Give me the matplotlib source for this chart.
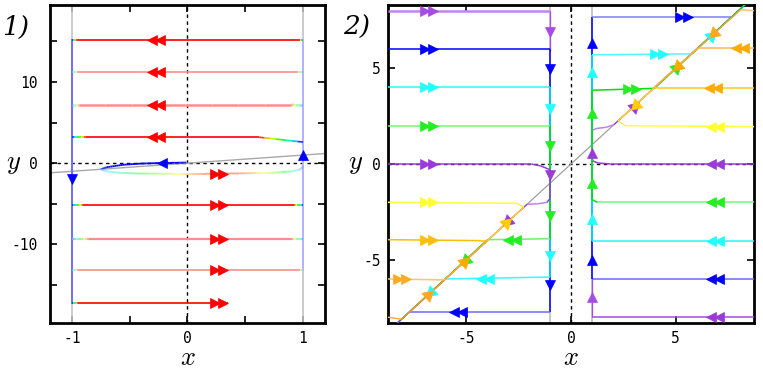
import numpy as np
import matplotlib.pyplot as plt
import matplotlib.transforms as mtransforms
from matplotlib.collections import LineCollection
from matplotlib.colors import LinearSegmentedColormap, to_rgba

plt.rcParams['mathtext.fontset'] = 'cm'
plt.rcParams['axes.unicode_minus'] = False

# ---------------- panel 1 data ----------------
# fast trajectories moving left (start at x=1, end at x=-1)
p1_left_y = [15.2, 11.2, 7.2, 3.2]
p1_left_light = [False, True, True, False]
p1_left_lw = [1.2, 1.2, 1.8, 1.2]
p1_left_ramp_l = [0.04, 0.05, 0.06, 0.12]
p1_left_ramp_r = [0.03, 0.05, 0.10, 0.38]
p1_left_end_y = [15.2, 11.2, 7.1, 2.6]  # y where the line meets x=1
# fast trajectories moving right (start at x=-1)
p1_right_y = [-5.2, -9.3, -13.2, -17.2]
p1_right_light = [False, True, True, False]
p1_right_lw = [1.2, 1.6, 1.2, 1.2]
p1_right_xend = [1.0, 1.0, 1.0, 0.35]
p1_right_ramp_l = [0.10, 0.15, 0.05, 0.05]
p1_right_ramp_r = [0.08, 0.10, 0.03, 0.0]
# small loop near the origin
loop_x = [-0.01, -0.07, -0.24, -0.42, -0.56, -0.70, -0.75, -0.72, -0.62,
          -0.42, -0.13, 0.16, 0.45, 0.74, 0.91, 0.98, 1.0]
loop_y = [0.08, 0.06, 0.02, -0.06, -0.2, -0.5, -0.74, -0.95, -1.16,
          -1.28, -1.3, -1.3, -1.26, -1.18, -1.0, -0.74, -0.42]
loop_c = [0.0, 0.0, 0.0, 0.0, 0.0, 0.02, 0.05, 0.2, 0.32,
          0.5, 0.7, 0.95, 0.95, 0.65, 0.38, 0.15, 0.0]

# ---------------- panel 2 data ----------------
# left-start trajectories (right to x=-1, down, then left onto y=x)
trA_x = [-8.75, -1.0, -1.0]
trA_y = [8.0, 8.0, 5.9]
trA_c = ['#c383f2', '#a64be6']
trB_x = [-8.75, -1.0, -1.0, -7.75, -8.6]
trB_y = [6.0, 6.0, -7.75, -7.75, -8.6]
trB_c = ['#0000ff', '#0000ff', '#6a6aff', '#6a6aff']
trC_x = [-8.75, -1.0, -1.0, -6.0, -8.6]
trC_y = [4.0, 4.0, -5.9, -6.0, -8.6]
trC_c = ['#22ffff', '#00f0ff', '#30ffff', '#00e8f0']
trD_x = [-8.75, -1.0, -1.0, -4.0, -8.6]
trD_y = [2.0, 2.0, -3.9, -3.95, -8.6]
trD_c = ['#6cff6c', '#00e000', '#70f070', '#00d800']
trE_x = [-8.75, -1.9, -1.45, -1.0, -1.0, -1.15, -1.6, -2.1, -8.6]
trE_y = [0.0, 0.0, -0.1, -0.3, -1.8, -2.0, -2.08, -2.1, -8.6]
trE_c = ['#9a3ad8'] * 5 + ['#c080f0'] * 2 + ['#9a3ad8']
trF_x = [-8.75, -2.6, -2.25]
trF_y = [-2.0, -2.05, -2.25]
trF_c = ['#ffff40', '#ffe840']
trG_x = [-8.75, -4.3, -4.0, -2.25]
trG_y = [-3.95, -4.0, -4.0, -2.25]
trG_c = ['#f8c000', '#f8c000', '#ffd030']
trH_x = [-8.75, -6.1, -6.0, -2.25]
trH_y = [-6.0, -6.05, -6.0, -2.25]
trH_c = ['#ffc468', '#ffc468', '#ffb030']
trI_x = [-8.75, -8.1, -4.0]
trI_y = [-8.0, -8.1, -4.0]
trI_c = ['#ffb040', '#ffa000']
# right-start trajectories (left to x=1, up, then right onto y=x)
trA2_x = [8.75, 1.0, 1.0]
trA2_y = [-8.0, -8.0, -5.9]
trA2_c = ['#a64be6', '#a64be6']
trB2_x = [8.75, 1.0, 1.0, 7.7, 8.6]
trB2_y = [-6.0, -6.0, 7.65, 7.65, 8.6]
trB2_c = ['#6a6aff', '#0000ff', '#7c7cff', '#3030ff']
trC2_x = [8.75, 1.0, 1.0, 5.8, 8.6]
trC2_y = [-4.0, -4.0, 5.7, 5.75, 8.6]
trC2_c = ['#30f0ff', '#00ffff', '#50f8ff', '#00f0ff']
trD2_x = [8.75, 1.25, 1.0, 1.0, 4.0, 8.6]
trD2_y = [-2.0, -2.0, -1.85, 3.85, 3.95, 8.6]
trD2_c = ['#78f878', '#00e000', '#00e000', '#00e000', '#00d000']
trE2_x = [8.75, 1.9, 1.3, 1.05, 1.0, 1.0, 1.2, 1.7, 2.05, 8.6]
trE2_y = [0.0, 0.0, 0.05, 0.15, 0.4, 1.75, 1.85, 1.92, 2.05, 8.6]
trE2_c = ['#9a3ad8'] * 5 + ['#c080f0'] * 3 + ['#9a3ad8']
trF2_x = [8.75, 2.6, 2.25]
trF2_y = [1.95, 2.0, 2.25]
trF2_c = ['#ffff40', '#ffe840']
trG2_x = [8.75, 4.3, 4.0, 2.25]
trG2_y = [3.95, 3.95, 4.0, 2.25]
trG2_c = ['#ffcc20', '#ffcc20', '#ffd030']
trH2_x = [8.75, 6.1, 6.0, 2.25]
trH2_y = [6.05, 6.05, 6.0, 2.25]
trH2_c = ['#ffb848', '#ffb848', '#ffb030']
trI2_x = [8.75, 8.1, 4.0]
trI2_y = [8.0, 8.05, 4.0]
trI2_c = ['#ffc070', '#ffa820']

# double arrows (fast motion): x, y, direction, colour
fast_x = [-6.8, -6.8, -6.8, -6.8, -6.8, -6.8, -6.8, -8.1,
          6.9, 6.9, 6.9, 6.9, 6.9, 6.9, 6.8, 8.1,
          -2.8, -4.1, -5.4, 2.9, 4.2, 5.4]
fast_y = [8.0, 6.0, 4.0, 2.0, 0.0, -2.0, -3.95, -6.0,
          0.0, -2.0, -4.0, -6.0, -8.0, 1.95, 3.95, 6.05,
          -3.95, -6.0, -7.75, 3.9, 5.75, 7.65]
fast_dir = ['>'] * 8 + ['<'] * 8 + ['<'] * 3 + ['>'] * 3
fast_col = ['#a64be6', '#0000ff', '#22ffff', '#22ee22', '#9a3ad8', '#ffff30', '#f8c000', '#ffaa20',
            '#9a3ad8', '#22ee22', '#22ffff', '#0000ff', '#9a3ad8', '#ffff30', '#ffaa00', '#ffaa00',
            '#22ee22', '#22ffff', '#0000ff', '#22ee22', '#22ffff', '#0000ff']
# single arrows on the slow branches x=-1 (down) and x=1 (up)
slow_left_y = [6.9, 4.95, 2.86, 0.95, -0.55, -2.7, -4.8, -6.3]
slow_left_c = ['#a64be6', '#0000ff', '#22ffff', '#22ee22', '#9a3ad8', '#22ee22', '#22ffff', '#0000ff']
slow_right_y = [-6.95, -5.0, -2.85, -1.0, 0.55, 2.65, 4.8, 6.3]
slow_right_c = ['#a64be6', '#0000ff', '#22ffff', '#22ee22', '#9a3ad8', '#22ee22', '#22ffff', '#0000ff']
# single arrows on the diagonal y=x
diag_t = [3.0, 5.0, 6.7, 3.1, 5.1, 6.85, -3.0, -5.0, -6.7, -3.1, -5.1, -6.85]
diag_up = [True, True, True, False, False, False, False, False, False, True, True, True]
diag_c = ['#9a3ad8', '#22ee22', '#22ffff', '#ffcc00', '#ffaa00', '#ffa820',
          '#9a3ad8', '#22ee22', '#22ffff', '#ffcc00', '#ffaa00', '#ffa820']

speed_cmap = LinearSegmentedColormap.from_list(
    'speed', ['#0000ff', '#00ffff', '#00ff00', '#ffff00', '#ff0000'])


def lighten(c, f=0.55):
    r, g, b, a = to_rgba(c)
    return (r + (1 - r) * f, g + (1 - g) * f, b + (1 - b) * f, 1.0)


def gradient_line(ax, xs, ys, vals, light=False, lw=1.2, sub=8):
    pts_x, pts_y, pts_v = [], [], []
    for i in range(len(xs) - 1):
        t = np.linspace(0, 1, sub, endpoint=False)
        pts_x += list(xs[i] + (xs[i + 1] - xs[i]) * t)
        pts_y += list(ys[i] + (ys[i + 1] - ys[i]) * t)
        pts_v += list(vals[i] + (vals[i + 1] - vals[i]) * t)
    pts_x.append(xs[-1]); pts_y.append(ys[-1]); pts_v.append(vals[-1])
    pts = np.column_stack([pts_x, pts_y])
    segs = np.stack([pts[:-1], pts[1:]], axis=1)
    v = 0.5 * (np.array(pts_v[:-1]) + np.array(pts_v[1:]))
    cols = [speed_cmap(c) for c in v]
    if light:
        cols = [lighten(c) for c in cols]
    ax.add_collection(LineCollection(segs, colors=cols, linewidths=lw, zorder=3,
                                     capstyle='butt'))


def path_line(ax, xs, ys, cols, lw=1.1):
    # the last segment of every trajectory runs along y=x: draw it thinner
    segs = [[(xs[i], ys[i]), (xs[i + 1], ys[i + 1])] for i in range(len(xs) - 1)]
    lws = [lw] * (len(segs) - 1) + [0.9]
    ax.add_collection(LineCollection(segs, colors=cols, linewidths=lws, zorder=3,
                                     joinstyle='round', capstyle='butt'))


def arrow(ax, x, y, marker, color, n=1, ms=7.5, sep=5.8):
    dirs = {'>': (1, 0), '<': (-1, 0), '^': (0, 1), 'v': (0, -1)}
    dx, dy = dirs[marker]
    for k in range(n):
        o = (k - (n - 1) / 2) * sep
        tr = mtransforms.offset_copy(ax.transData, fig=ax.figure, x=o * dx, y=o * dy,
                                     units='points')
        ax.plot([x], [y], marker=marker, ms=ms, color=color, mec=color, mew=0.5,
                transform=tr, zorder=6, linestyle='none')


def style_axes(ax, pad):
    for s in ax.spines.values():
        s.set_linewidth(2.0)
    ax.tick_params(which='both', direction='in', top=True, right=True, length=5,
                   width=1.2, labelsize=10.5, labelfontfamily='DejaVu Sans Mono')
    ax.tick_params(axis='y', pad=pad)
    ax.tick_params(axis='x', pad=6)
    ax.axhline(0, color='k', lw=1.0, ls=(0, (2.5, 2.5)), zorder=1)
    ax.axvline(0, color='k', lw=1.0, ls=(0, (2.5, 2.5)), zorder=1)
    ax.set_xlabel('$x$', fontsize=19, va='center')
    ax.set_ylabel('$y$', fontsize=19, rotation=0, va='center', ha='center')


fig = plt.figure(figsize=(7.63, 3.72), dpi=100)

# ================= panel 1 =================
ax1 = fig.add_axes([0.0655, 0.1317, 0.3604, 0.8549])
ax1.set_xlim(-1.19, 1.19)
ax1.set_ylim(-19.7, 19.5)
ax1.set_xticks([-1, 0, 1])
ax1.set_yticks([-10, 0, 10])
ax1.set_xticks([-0.5, 0.5], minor=True)
ax1.set_yticks([-15, -5, 5, 15], minor=True)
style_axes(ax1, pad=8.5)
ax1.xaxis.set_label_coords(0.502, -0.11)
ax1.yaxis.set_label_coords(-0.131, 0.503)

ax1.axvline(-1, color='#c4c4c4', lw=1.2, zorder=2)
ax1.axvline(1, color='#c4c4c4', lw=1.2, zorder=2)
ax1.plot([-1.19, 1.19], [-1.19, 1.19], color='#a8a8a8', lw=1.0, zorder=2)
ax1.plot([-1, -1], [max(p1_left_y), min(p1_right_y)], color='#6e6eff', lw=1.4, zorder=3)
ax1.plot([1, 1], [p1_right_y[2], max(p1_left_y)], color='#b4b4ff', lw=1.4, zorder=3)

for y0, light, lw, wl, wr, ye in zip(p1_left_y, p1_left_light, p1_left_lw,
                                     p1_left_ramp_l, p1_left_ramp_r, p1_left_end_y):
    xs = [-1.0, -1.0 + wl, 1.0 - wr, 1.0]
    ys = [y0, y0, y0, ye]
    gradient_line(ax1, xs, ys, [0.0, 1.0, 1.0, 0.0], light, lw)
    arrow(ax1, -0.27, y0, '<', '#ff0000', n=2)

for y0, light, lw, xe, wl, wr in zip(p1_right_y, p1_right_light, p1_right_lw,
                                     p1_right_xend, p1_right_ramp_l, p1_right_ramp_r):
    if wr > 0:
        xs = [-1.0, -1.0 + wl, xe - wr, xe]
        vals = [0.0, 1.0, 1.0, 0.0]
    else:
        xs = [-1.0, -1.0 + wl, xe]
        vals = [0.0, 1.0, 1.0]
    gradient_line(ax1, xs, [y0] * len(xs), vals, light, lw)
    arrow(ax1, 0.27, y0, '>', '#ff0000', n=2)

gradient_line(ax1, loop_x[:7], loop_y[:7], loop_c[:7], False, 1.3)
gradient_line(ax1, loop_x[6:], loop_y[6:], loop_c[6:], True, 1.3)
arrow(ax1, 0.27, -1.3, '>', '#ff0000', n=2)
arrow(ax1, -0.22, 0.04, '<', '#0000ff')
arrow(ax1, -1.0, -1.9, 'v', '#0000ff')
arrow(ax1, 1.0, 1.0, '^', '#0000ff')

# ================= panel 2 =================
ax2 = fig.add_axes([0.5085, 0.1317, 0.4797, 0.8549])
ax2.set_xlim(-8.75, 8.75)
ax2.set_ylim(-8.3, 8.3)
ax2.set_xticks([-5, 0, 5])
ax2.set_yticks([-5, 0, 5])
style_axes(ax2, pad=5)
ax2.xaxis.set_label_coords(0.5, -0.11)
ax2.yaxis.set_label_coords(-0.09, 0.502)

ax2.axvline(-1, color='#b8b8b8', lw=1.1, zorder=2)
ax2.axvline(1, color='#b8b8b8', lw=1.1, zorder=2)
ax2.plot([-8.75, 8.75], [-8.75, 8.75], color='#a0a0a0', lw=0.9, zorder=2)

left_order = [(trA_x, trA_y, trA_c), (trB_x, trB_y, trB_c),
              (trC_x, trC_y, trC_c), (trD_x, trD_y, trD_c), (trE_x, trE_y, trE_c),
              (trI_x, trI_y, trI_c), (trH_x, trH_y, trH_c), (trG_x, trG_y, trG_c),
              (trF_x, trF_y, trF_c)]
right_order = [(trE2_x, trE2_y, trE2_c), (trA2_x, trA2_y, trA2_c),
               (trB2_x, trB2_y, trB2_c), (trC2_x, trC2_y, trC2_c), (trD2_x, trD2_y, trD2_c),
               (trI2_x, trI2_y, trI2_c), (trH2_x, trH2_y, trH2_c), (trG2_x, trG2_y, trG2_c),
               (trF2_x, trF2_y, trF2_c)]
for xs, ys, cs in left_order + right_order:
    lw = 1.8 if xs is trA_x else 1.1
    path_line(ax2, xs, ys, cs, lw)

for x, y, d, c in zip(fast_x, fast_y, fast_dir, fast_col):
    arrow(ax2, x, y, d, c, n=2)
for y, c in zip(slow_left_y, slow_left_c):
    arrow(ax2, -1.0, y, 'v', c)
for y, c in zip(slow_right_y, slow_right_c):
    arrow(ax2, 1.0, y, '^', c)

w_px = 0.4797 * 763 / 17.5
h_px = 0.8549 * 372 / 16.6
ang = np.degrees(np.arctan2(h_px, w_px))
for t, up, c in zip(diag_t, diag_up, diag_c):
    rot = ang - 90 if up else ang + 90
    ax2.plot([t], [t], marker=(3, 0, rot), ms=10, color=c, mec=c, mew=0.5,
             zorder=6, linestyle='none')

fig.text(0.020, 0.927, '1)', fontsize=19, ha='center', va='center',
         family='DejaVu Serif', style='italic')
fig.text(0.468, 0.925, '2)', fontsize=19, ha='center', va='center',
         family='DejaVu Serif', style='italic')

fig.savefig('out.png', dpi=100)
